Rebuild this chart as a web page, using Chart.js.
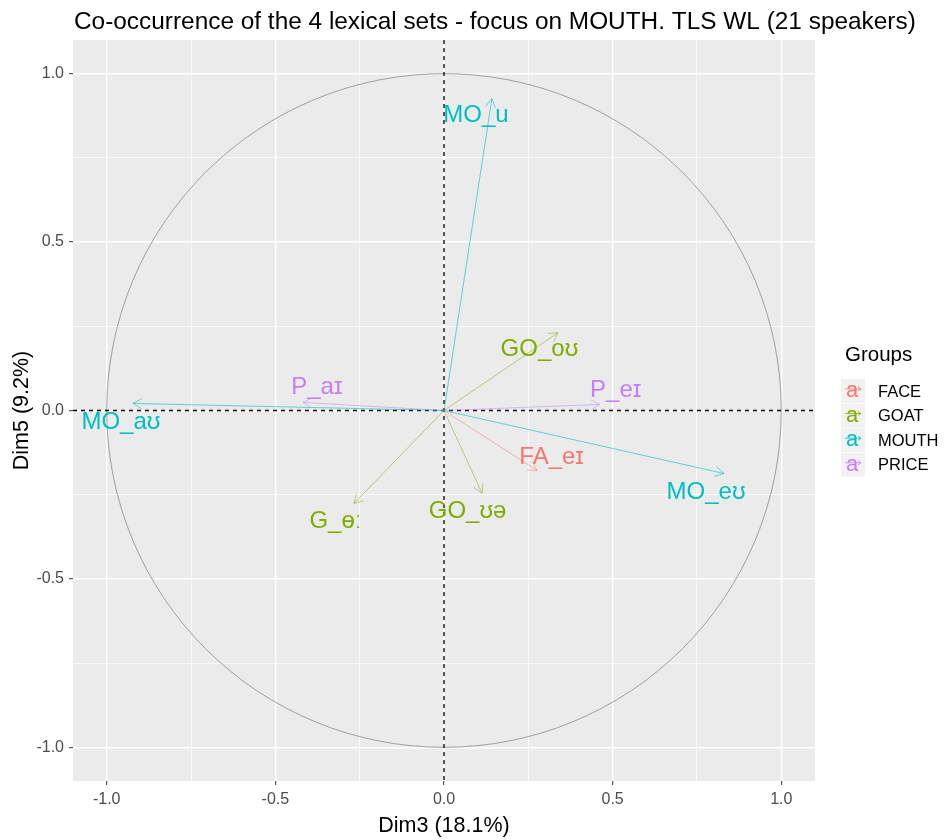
<!DOCTYPE html>
<html>
<head>
<meta charset="utf-8">
<script src="https://cdn.jsdelivr.net/npm/chart.js@4.4.1/dist/chart.umd.min.js"></script>
<style>
  body { margin: 0; background: #fff; }
  #wrap { width: 946px; height: 840px; }
</style>
</head>
<body>
<div id="wrap"><canvas id="pca" width="946" height="840"></canvas></div>
<script>
// variables of the correlation circle (Dim3 / Dim5 coordinates)
var varNames  = ['MO_u', 'MO_a\u028A', 'P_a\u026A', 'GO_o\u028A', 'P_e\u026A', 'FA_e\u026A', 'GO_\u028A\u0259', 'G_\u0275\u02D0', 'MO_e\u028A'];
var varGroups = ['MOUTH', 'MOUTH', 'PRICE', 'GOAT', 'PRICE', 'FACE', 'GOAT', 'GOAT', 'MOUTH'];
var dim3 = [0.142, -0.922, -0.418, 0.338, 0.462, 0.276, 0.113, -0.267, 0.830];
var dim5 = [0.926, 0.021, 0.024, 0.231, 0.018, -0.178, -0.246, -0.276, -0.187];
// where the repelled labels ended up
var labelDim3 = [0.095, -0.958, -0.377, 0.283, 0.509, 0.319, 0.070, -0.322, 0.777];
var labelDim5 = [0.875, -0.036, 0.068, 0.181, 0.059, -0.139, -0.300, -0.329, -0.243];

var groupNames  = ['FACE', 'GOAT', 'MOUTH', 'PRICE'];
var groupColors = ['248, 118, 109', '124, 174, 0', '0, 191, 196', '199, 124, 255'];

var majorTicks = [-1.0, -0.5, 0.0, 0.5, 1.0];
var minorTicks = [-0.75, -0.25, 0.25, 0.75];

var FONT = '"Liberation Sans", "DejaVu Sans", Arial, sans-serif';

function colorOf(name, alpha) {
  var c = groupColors[groupNames.indexOf(name)];
  return 'rgba(' + c + ', ' + alpha + ')';
}

function isMajor(v) {
  return majorTicks.some(function(m) { return Math.abs(m - v) < 1e-9; });
}

var datasets = varNames.map(function(name, i) {
  return {
    label: name,
    data: [{x: 0, y: 0}, {x: dim3[i], y: dim5[i]}],
    showLine: true,
    borderColor: colorOf(varGroups[i], varGroups[i] === 'MOUTH' ? 0.6 : 0.5),
    borderWidth: 1,
    pointRadius: 0,
    pointHoverRadius: 0
  };
});

var allTicks = majorTicks.concat(minorTicks).sort(function(a, b) { return a - b; });

function axisOptions(size, titleText, titlePad) {
  return {
    type: 'linear',
    min: -1.1,
    max: 1.1,
    afterBuildTicks: function(scale) {
      scale.ticks = allTicks.map(function(v) { return {value: v}; });
    },
    afterFit: function(scale) {
      if (scale.isHorizontal()) scale.height = size; else scale.width = size;
    },
    border: {display: false},
    grid: {
      color: '#ffffff',
      lineWidth: function(ctx) { return ctx.tick && isMajor(ctx.tick.value) ? 1.4 : 0.7; },
      tickColor: function(ctx) { return ctx.tick && isMajor(ctx.tick.value) ? '#333333' : 'rgba(0,0,0,0)'; },
      tickLength: 4,
      tickWidth: 1
    },
    ticks: {
      autoSkip: false,
      maxRotation: 0,
      padding: 5,
      color: '#4D4D4D',
      font: {family: FONT, size: 16},
      callback: function(v) { return isMajor(v) ? v.toFixed(1) : ''; }
    },
    title: {
      display: true,
      text: titleText,
      color: '#000000',
      font: {family: FONT, size: 21.5},
      padding: titlePad
    }
  };
}

var panelPlugin = {
  id: 'panel',
  beforeDraw: function(chart) {
    var a = chart.chartArea, ctx = chart.ctx;
    ctx.save();
    ctx.fillStyle = '#EBEBEB';
    ctx.fillRect(a.left, a.top, a.right - a.left, a.bottom - a.top);
    ctx.restore();
  },
  beforeDatasetsDraw: function(chart) {
    var ctx = chart.ctx, x = chart.scales.x, y = chart.scales.y, a = chart.chartArea;
    var cx = x.getPixelForValue(0), cy = y.getPixelForValue(0);
    ctx.save();
    // unit circle
    ctx.strokeStyle = '#A0A0A0';
    ctx.lineWidth = 1;
    ctx.beginPath();
    ctx.ellipse(cx, cy, x.getPixelForValue(1) - cx, cy - y.getPixelForValue(1), 0, 0, Math.PI * 2);
    ctx.stroke();
    // dashed axes through the origin
    ctx.strokeStyle = '#000000';
    ctx.lineWidth = 1.3;
    ctx.setLineDash([4, 4]);
    ctx.beginPath();
    ctx.moveTo(a.left, cy); ctx.lineTo(a.right, cy);
    ctx.moveTo(cx, a.top); ctx.lineTo(cx, a.bottom);
    ctx.stroke();
    ctx.restore();
  },
  afterDatasetsDraw: function(chart) {
    var ctx = chart.ctx, x = chart.scales.x, y = chart.scales.y;
    ctx.save();
    // open arrow heads
    chart.data.datasets.forEach(function(ds, i) {
      var pts = chart.getDatasetMeta(i).data;
      var p0 = pts[0], p1 = pts[1];
      var ang = Math.atan2(p1.y - p0.y, p1.x - p0.x);
      var len = 10, spread = Math.PI / 6;
      ctx.strokeStyle = ds.borderColor;
      ctx.lineWidth = 1;
      ctx.beginPath();
      ctx.moveTo(p1.x - len * Math.cos(ang - spread), p1.y - len * Math.sin(ang - spread));
      ctx.lineTo(p1.x, p1.y);
      ctx.lineTo(p1.x - len * Math.cos(ang + spread), p1.y - len * Math.sin(ang + spread));
      ctx.stroke();
    });
    // labels
    ctx.font = '24px ' + FONT;
    ctx.textAlign = 'center';
    ctx.textBaseline = 'middle';
    varNames.forEach(function(name, i) {
      ctx.fillStyle = colorOf(varGroups[i], 1);
      ctx.fillText(name, x.getPixelForValue(labelDim3[i]), y.getPixelForValue(labelDim5[i]));
    });
    ctx.restore();
  },
  afterDraw: function(chart) {
    var ctx = chart.ctx, a = chart.chartArea;
    ctx.save();
    // main title
    ctx.fillStyle = '#000000';
    ctx.font = '24.4px ' + FONT;
    ctx.textAlign = 'left';
    ctx.textBaseline = 'alphabetic';
    ctx.fillText('Co-occurrence of the 4 lexical sets - focus on MOUTH. TLS WL (21 speakers)', a.left + 1, 29);

    // legend
    var lx = a.right + 30;
    ctx.font = '20.5px ' + FONT;
    ctx.textBaseline = 'middle';
    ctx.fillText('Groups', lx, 355);
    groupNames.forEach(function(g, k) {
      var ry = 391 + k * 24.6;
      ctx.fillStyle = '#F2F2F2';
      ctx.fillRect(lx - 4, ry - 12, 24, 24);
      ctx.strokeStyle = colorOf(g, 0.8);
      ctx.lineWidth = 1;
      ctx.beginPath();
      ctx.moveTo(lx, ry - 2); ctx.lineTo(lx + 16, ry - 2);
      ctx.moveTo(lx + 13, ry - 4); ctx.lineTo(lx + 16, ry - 2); ctx.lineTo(lx + 13, ry);
      ctx.stroke();
      ctx.fillStyle = colorOf(g, 1);
      ctx.font = '22px ' + FONT;
      ctx.textAlign = 'center';
      ctx.fillText('a', lx + 7, ry);
      ctx.fillStyle = '#000000';
      ctx.font = '16.5px ' + FONT;
      ctx.textAlign = 'left';
      ctx.fillText(g, lx + 33, ry + 1);
    });
    ctx.restore();
  }
};

new Chart(document.getElementById('pca'), {
  type: 'scatter',
  data: {datasets: datasets},
  options: {
    responsive: false,
    animation: false,
    devicePixelRatio: 1,
    layout: {padding: {top: 40, right: 131, left: 0, bottom: 0}},
    plugins: {
      legend: {display: false},
      tooltip: {enabled: false}
    },
    scales: {
      x: axisOptions(59, 'Dim3 (18.1%)', {top: 0, bottom: 1}),
      y: axisOptions(73, 'Dim5 (9.2%)', {top: 9, bottom: 0})
    }
  },
  plugins: [panelPlugin]
});
</script>
</body>
</html>
